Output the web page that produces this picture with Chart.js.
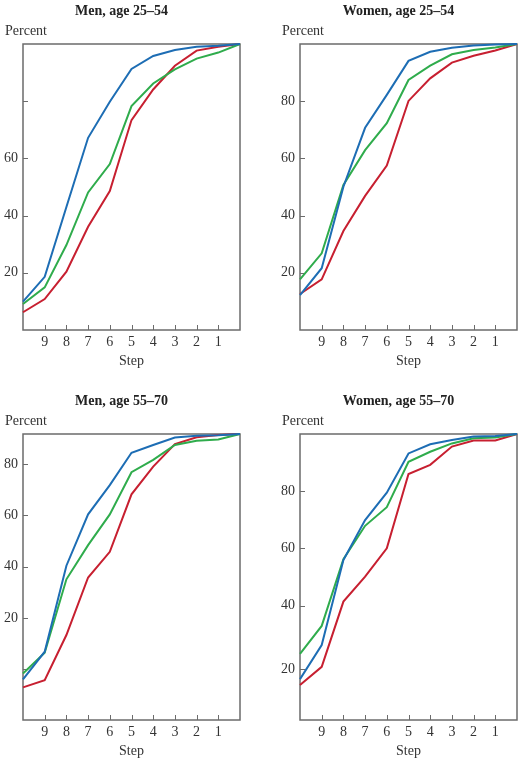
<!DOCTYPE html>
<html>
<head>
<meta charset="utf-8">
<script src="https://cdn.jsdelivr.net/npm/chart.js@4"></script>
<style>
  html, body { margin: 0; padding: 0; background: #fff; }
  #wrap { position: relative; width: 522px; height: 763px; }
  .cell { position: absolute; }
</style>
</head>
<body>
<div id="wrap">
  <div class="cell" style="left:0;top:0"><canvas id="c1" width="261" height="380"></canvas></div>
  <div class="cell" style="left:261px;top:0"><canvas id="c2" width="261" height="380"></canvas></div>
  <div class="cell" style="left:0;top:380px"><canvas id="c3" width="261" height="383"></canvas></div>
  <div class="cell" style="left:261px;top:380px"><canvas id="c4" width="261" height="383"></canvas></div>
</div>
<script>
// steps on the x axis, from left (10) to right (0)
var steps = ['10', '9', '8', '7', '6', '5', '4', '3', '2', '1', '0'];

// Men, age 25-54
var men2554Blue  = [9.9, 18.6, 43, 67.2, 79.8, 91.3, 95.8, 97.9, 99, 99.4, 100];
var men2554Green = [9.1, 14.9, 29.7, 48.1, 58, 78.3, 86.2, 91.1, 94.9, 97, 100];
var men2554Red   = [6.2, 10.8, 20.4, 36.1, 48.6, 73.4, 84.1, 92.4, 97.7, 99, 100];

// Women, age 25-54
var women2554Blue  = [12.2, 21.6, 50.1, 70.7, 82.2, 94.1, 97.3, 98.7, 99.5, 99.8, 100];
var women2554Green = [17.7, 26.8, 50.7, 62.9, 72.3, 87.4, 92.4, 96.4, 97.9, 98.8, 100];
var women2554Red   = [12.6, 17.7, 34.6, 46.9, 57.5, 80.1, 88, 93.5, 95.9, 97.7, 100];

// Men, age 55-70
var men5570Blue  = [-3.9, 6.9, 40.4, 60.4, 71.8, 84.4, 87.4, 90.3, 91, 91.2, 91.7];
var men5570Green = [-1.6, 6.5, 35.1, 48.4, 60.4, 76.8, 81.6, 87.4, 89.1, 89.6, 91.7];
var men5570Red   = [-7, -4.2, 13.4, 35.8, 45.8, 68.2, 79, 87.8, 90.4, 91.3, 91.7];

// Women, age 55-70
var women5570Blue  = [14.3, 26.2, 55.9, 69.9, 79.5, 93.2, 96.4, 97.9, 99.1, 99.3, 100];
var women5570Green = [23.1, 32.9, 56.2, 67.9, 74.4, 90.3, 93.8, 96.7, 98.5, 98.8, 100];
var women5570Red   = [12.2, 18.6, 41.4, 50.1, 60, 86, 89.2, 95.6, 97.7, 97.7, 100];

// y tick values and the labels printed beside them
var men2554YTicks = [20, 40, 60, 80];
var men2554YLabels = ['20', '40', '60', ''];
var women2554YTicks = [20, 40, 60, 80];
var women2554YLabels = ['20', '40', '60', '80'];
var men5570YTicks = [0, 20, 40, 60, 80];
var men5570YLabels = ['', '20', '40', '60', '80'];
var women5570YTicks = [17.8, 40, 60, 80];
var women5570YLabels = ['20', '40', '60', '80'];

var BLUE = '#1d6db4', GREEN = '#2fac4c', RED = '#c71f30';
var FRAME = '#6b6b6b', TEXT = '#333';

Chart.defaults.font.family = '"Liberation Serif", "Times New Roman", serif';
Chart.defaults.color = TEXT;

var framePlugin = {
    id: 'frame',
    beforeDatasetsDraw: function(chart) {
        var ctx = chart.ctx, a = chart.chartArea;
        ctx.save();
        ctx.strokeStyle = FRAME;
        ctx.lineWidth = 1.5;
        ctx.strokeRect(a.left, a.top, a.right - a.left, a.bottom - a.top);
        // inward tick marks
        ctx.lineWidth = 1;
        var xs = chart.scales.x, ys = chart.scales.y;
        xs.ticks.forEach(function(t, i) {
            if (i === 0 || i === xs.ticks.length - 1) return;
            var px = Math.round(xs.getPixelForTick(i)) + 0.5;
            ctx.beginPath(); ctx.moveTo(px, a.bottom); ctx.lineTo(px, a.bottom - 5); ctx.stroke();
        });
        ys.ticks.forEach(function(t) {
            var py = Math.round(ys.getPixelForValue(t.value)) + 0.5;
            ctx.beginPath(); ctx.moveTo(a.left, py); ctx.lineTo(a.left + 5, py); ctx.stroke();
        });
        ctx.restore();
    },
    afterDraw: function(chart, args, opts) {
        var ctx = chart.ctx, a = chart.chartArea;
        var cx = (a.left + a.right) / 2;
        ctx.save();
        ctx.fillStyle = '#222';
        ctx.textBaseline = 'middle';
        ctx.textAlign = 'center';
        ctx.font = 'bold 14px "Liberation Serif", serif';
        ctx.fillText(opts.title, cx - 10, a.top - 33);
        ctx.fillStyle = TEXT;
        ctx.font = '14px "Liberation Serif", serif';
        ctx.fillText('Step', cx, a.bottom + 31);
        ctx.textAlign = 'left';
        ctx.fillText('Percent', a.left - 18, a.top - 13);
        ctx.restore();
    }
};

function makePanel(id, title, blue, green, red, yMin, yMax, yTicks, yLabels, box) {
    var line = function(label, data, color) {
        return { label: label, data: data, borderColor: color, borderWidth: 2,
                 pointRadius: 0, tension: 0, fill: false, clip: false };
    };
    new Chart(document.getElementById(id), {
        type: 'line',
        data: {
            labels: steps,
            datasets: [
                line('Series 1', blue, BLUE),
                line('Series 2', green, GREEN),
                line('Series 3', red, RED)
            ]
        },
        options: {
            responsive: false,
            animation: false,
            devicePixelRatio: 1,
            layout: { padding: { top: box.top, right: box.right, left: 0, bottom: 0 } },
            plugins: { legend: { display: false }, tooltip: { enabled: false }, frame: { title: title } },
            scales: {
                x: {
                    offset: false,
                    grid: { display: false, drawTicks: false },
                    border: { display: false },
                    ticks: {
                        autoSkip: false, maxRotation: 0, padding: 4,
                        font: { size: 14 },
                        callback: function(v, i) {
                            return (i === 0 || i === steps.length - 1) ? '' : steps[i];
                        }
                    },
                    afterFit: function(s) { s.height = box.bottom; }
                },
                y: {
                    min: yMin, max: yMax,
                    grid: { display: false, drawTicks: false },
                    border: { display: false },
                    afterBuildTicks: function(s) {
                        s.ticks = yTicks.map(function(v) { return { value: v }; });
                    },
                    ticks: {
                        padding: 5,
                        font: { size: 14 },
                        callback: function(v) {
                            var k = yTicks.indexOf(v);
                            return k < 0 ? '' : yLabels[k];
                        }
                    },
                    afterFit: function(s) { s.width = box.left; }
                }
            }
        },
        plugins: [framePlugin]
    });
}

makePanel('c1', 'Men, age 25\u201354', men2554Blue, men2554Green, men2554Red,
          0, 100, men2554YTicks, men2554YLabels, { left: 23, top: 44, right: 21, bottom: 50 });
makePanel('c2', 'Women, age 25\u201354', women2554Blue, women2554Green, women2554Red,
          0, 100, women2554YTicks, women2554YLabels, { left: 39, top: 44, right: 5, bottom: 50 });
makePanel('c3', 'Men, age 55\u201370', men5570Blue, men5570Green, men5570Red,
          -19.7, 91.7, men5570YTicks, men5570YLabels, { left: 23, top: 54, right: 21, bottom: 43 });
makePanel('c4', 'Women, age 55\u201370', women5570Blue, women5570Green, women5570Red,
          0, 100, women5570YTicks, women5570YLabels, { left: 39, top: 54, right: 5, bottom: 43 });
</script>
</body>
</html>
